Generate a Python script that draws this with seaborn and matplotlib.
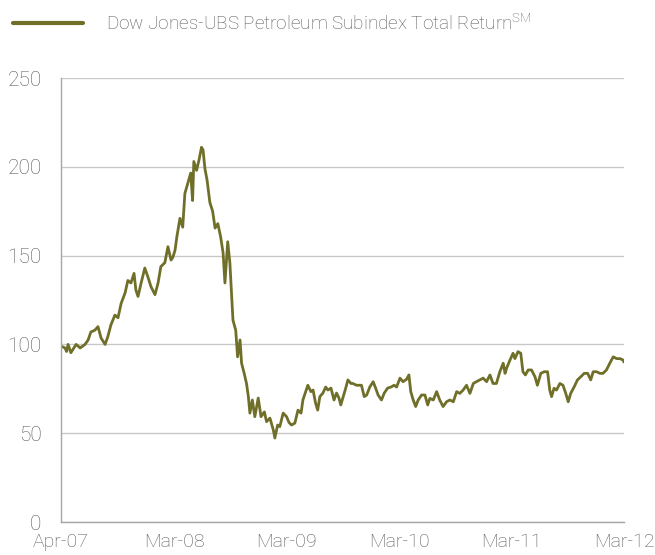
import pandas as pd
import numpy as np
import matplotlib
matplotlib.use("Agg")
import matplotlib.pyplot as plt
import seaborn as sns

# ------------------------------------------------------------
# Data
# ------------------------------------------------------------
dates = [
    "2007-03-30", "2007-04-12", "2007-04-17", "2007-04-22", "2007-05-01", "2007-05-18",
    "2007-05-31", "2007-06-16", "2007-06-26", "2007-07-05", "2007-07-18", "2007-07-28",
    "2007-08-07", "2007-08-20", "2007-08-29", "2007-09-08", "2007-09-21", "2007-10-01",
    "2007-10-11", "2007-10-24", "2007-11-02", "2007-11-12", "2007-11-22", "2007-11-28",
    "2007-12-05", "2007-12-15", "2007-12-27", "2008-01-06", "2008-01-16", "2008-01-29",
    "2008-02-08", "2008-02-17", "2008-03-01", "2008-03-11", "2008-03-21", "2008-03-27",
    "2008-04-03", "2008-04-09", "2008-04-19", "2008-04-28", "2008-05-05", "2008-05-15",
    "2008-05-24", "2008-05-30", "2008-06-03", "2008-06-12", "2008-06-20", "2008-06-28",
    "2008-07-03", "2008-07-09", "2008-07-16", "2008-07-25", "2008-08-03", "2008-08-11",
    "2008-08-20", "2008-08-29", "2008-09-06", "2008-09-12", "2008-09-21", "2008-09-28",
    "2008-10-04", "2008-10-08", "2008-10-17", "2008-10-23", "2008-10-31", "2008-11-05",
    "2008-11-13", "2008-11-21", "2008-11-27", "2008-12-02", "2008-12-10", "2008-12-18",
    "2008-12-29", "2009-01-07", "2009-01-18", "2009-01-25", "2009-02-05", "2009-02-16",
    "2009-02-21", "2009-03-02", "2009-03-09", "2009-03-20", "2009-03-31", "2009-04-08",
    "2009-04-16", "2009-04-27", "2009-05-07", "2009-05-17", "2009-05-23", "2009-06-01",
    "2009-06-08", "2009-06-18", "2009-06-25", "2009-07-03", "2009-07-10", "2009-07-17",
    "2009-07-27", "2009-08-05", "2009-08-12", "2009-08-22", "2009-09-01", "2009-09-09",
    "2009-09-17", "2009-09-23", "2009-10-01", "2009-10-09", "2009-10-16", "2009-10-26",
    "2009-11-01", "2009-11-13", "2009-11-21", "2009-11-29", "2009-12-08", "2009-12-16",
    "2009-12-26", "2010-01-06", "2010-01-14", "2010-01-22", "2010-02-02", "2010-02-11",
    "2010-02-22", "2010-03-05", "2010-03-15", "2010-03-23", "2010-04-03", "2010-04-13",
    "2010-04-24", "2010-05-02", "2010-05-08", "2010-05-16", "2010-05-24", "2010-06-01",
    "2010-06-12", "2010-06-23", "2010-07-02", "2010-07-09", "2010-07-20", "2010-07-31",
    "2010-08-10", "2010-08-21", "2010-09-01", "2010-09-12", "2010-09-23", "2010-10-04",
    "2010-10-14", "2010-10-25", "2010-11-05", "2010-11-16", "2010-11-27", "2010-12-07",
    "2010-12-18", "2010-12-29", "2011-01-09", "2011-01-20", "2011-01-30", "2011-02-10",
    "2011-02-21", "2011-03-04", "2011-03-10", "2011-03-15", "2011-03-26", "2011-04-05",
    "2011-04-11", "2011-04-21", "2011-04-30", "2011-05-07", "2011-05-15", "2011-05-24",
    "2011-06-04", "2011-06-15", "2011-06-23", "2011-07-04", "2011-07-15", "2011-07-26",
    "2011-08-02", "2011-08-08", "2011-08-16", "2011-08-24", "2011-09-04", "2011-09-14",
    "2011-09-23", "2011-10-01", "2011-10-09", "2011-10-20", "2011-10-31", "2011-11-11",
    "2011-11-22", "2011-12-03", "2011-12-13", "2011-12-21", "2012-01-01", "2012-01-12",
    "2012-01-22", "2012-02-02", "2012-02-13", "2012-02-24", "2012-03-06", "2012-03-17",
    "2012-03-27", "2012-03-30",
]

values = [
    99, 98, 96, 100, 95.3, 100,
    98, 100, 102.5, 107, 108, 110,
    103.6, 100, 104.4, 111, 116.5, 115,
    123, 129, 136, 134.6, 140, 130.6,
    127, 134.6, 143, 138, 132.5, 128,
    134.6, 143.8, 146, 155, 147.5, 149,
    153, 160.6, 171, 166, 185, 191,
    196.5, 181, 203, 198, 204, 211,
    209.5, 199, 192.6, 180, 175, 165.5,
    168, 160.6, 151.5, 134.6, 157.8, 146,
    127, 113.7, 108, 93, 102.5, 89.4,
    84, 78, 70.6, 61.3, 68.7, 59.3,
    69.8, 59.3, 62, 56.5, 58.5, 51.8,
    47.3, 54.6, 53.7, 61.3, 59.3, 56,
    54.6, 55.7, 63, 61.3, 68.7, 73.4,
    77, 73.4, 74.3, 67, 63, 70.6,
    72.6, 76, 74.3, 75.4, 68.7, 72.6,
    69.8, 65.9, 70.6, 75.4, 80, 78,
    78, 77, 77, 77, 70.6, 71.5,
    76, 79, 75.4, 71.5, 68.7, 72.6,
    75.4, 76, 77, 76, 81, 79,
    80.3, 82.8, 73.4, 68.7, 65, 68.7,
    71.5, 71.5, 65.9, 69.6, 68.7, 73.4,
    68.7, 65, 67.7, 68.7, 67.7, 73.4,
    72.4, 74.3, 77, 72.4, 78, 79,
    80, 81, 79, 82.8, 78, 78,
    84.6, 89.4, 83.7, 86.6, 91.2, 95,
    92, 95.9, 95, 84.6, 82.8, 85.6,
    85.6, 81.8, 77, 83.7, 84.6, 84.6,
    74.3, 70.6, 75.3, 74.3, 78, 77,
    72.4, 67.7, 72.4, 76, 80, 81.8,
    83.7, 83.7, 80, 84.6, 84.6, 83.7,
    83.7, 85.6, 89.4, 93, 92, 92,
    91.2, 90,
]

tick_dates = ["2007-03-30", "2008-03-31", "2009-03-31", "2010-03-31", "2011-03-31", "2012-03-30"]
tick_labels = ["Apr-07", "Mar-08", "Mar-09", "Mar-10", "Mar-11", "Mar-12"]
y_ticks = [0, 50, 100, 150, 200, 250]

SERIES_NAME = "Dow Jones-UBS Petroleum Subindex Total Return$^{\\mathregular{SM}}$"
LINE_COLOR = "#6f6f2a"
TEXT_COLOR = "#595959"

df = pd.DataFrame({"date": pd.to_datetime(dates), "value": values})

# ------------------------------------------------------------
# Plot
# ------------------------------------------------------------
sns.set_style("white")
plt.rcParams["font.family"] = ["Roboto", "DejaVu Sans"]
plt.rcParams["font.weight"] = "light"

fig = plt.figure(figsize=(6.55, 5.55), dpi=100)
ax = fig.add_axes([61 / 655, 1 - 522 / 555, 563 / 655, 444 / 555])

sns.lineplot(data=df, x="date", y="value", ax=ax, color=LINE_COLOR,
             linewidth=2.0, label=SERIES_NAME)

ax.set_xlim(pd.Timestamp(tick_dates[0]), pd.Timestamp(tick_dates[-1]))
ax.set_ylim(0, 250)
ax.set_yticks(y_ticks)
ax.set_xticks(pd.to_datetime(tick_dates))
ax.set_xticklabels(tick_labels)
ax.set_xlabel("")
ax.set_ylabel("")

ax.grid(axis="y", color="#c8c8c8", linewidth=1.0)
ax.grid(axis="x", visible=False)
ax.set_axisbelow(True)

for side in ["top", "right"]:
    ax.spines[side].set_visible(False)
for side in ["left", "bottom"]:
    ax.spines[side].set_color("#a6a6a6")
    ax.spines[side].set_linewidth(1.0)

ax.tick_params(axis="both", which="major", direction="out", length=5, width=1,
               color="#a6a6a6", labelcolor=TEXT_COLOR, labelsize=14)
ax.tick_params(axis="y", labelsize=15, pad=9)
ax.tick_params(axis="x", pad=3)

leg = ax.legend(loc="upper left", bbox_to_anchor=(-61 / 563, 1 + 78 / 444),
                frameon=False, fontsize=13.6, handlelength=3.7, handletextpad=1.2,
                borderaxespad=0.3)
for t in leg.get_texts():
    t.set_color(TEXT_COLOR)
for h in leg.get_lines():
    h.set_linewidth(3)

plt.savefig("out.png", dpi=100)
